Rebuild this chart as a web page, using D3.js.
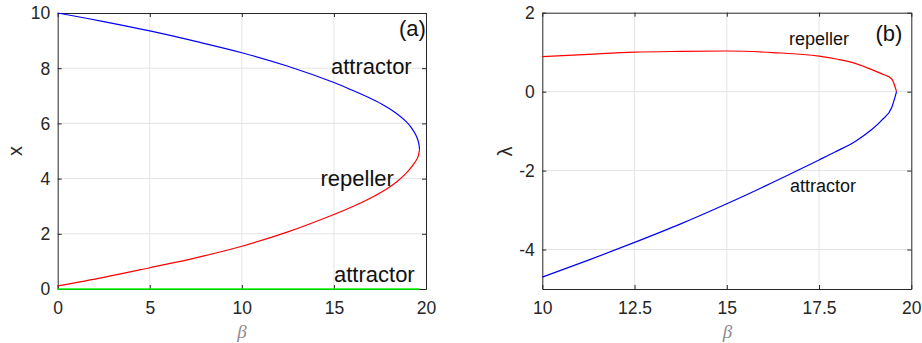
<!DOCTYPE html>
<html>
<head>
<meta charset="utf-8">
<script src="https://cdn.jsdelivr.net/npm/d3@7"></script>
<style>
  html, body { margin: 0; padding: 0; background: #fff; }
  svg { display: block; font-family: "Liberation Sans", Arial, sans-serif; }
  .tick text { fill: #262626; font-size: 17.5px; }
  .tick line { stroke: #262626; }
  .domain { stroke: #262626; }
  .grid line { stroke: #e4e4e4; stroke-width: 1; }
</style>
</head>
<body>
<svg id="chart" width="922" height="343"></svg>
<script>
// Panel (a): equilibria x* versus beta
const betaTicksA = [0, 5, 10, 15, 20];
const xTicksA = [0, 2, 4, 6, 8, 10];
// upper stable branch [beta, x]
const attractorUpper = [
  [0, 10.0], [2.5, 9.69], [5, 9.35], [7.5, 8.97], [10, 8.56], [12.5, 8.07],
  [15, 7.48], [16, 7.2], [17.0, 6.9], [17.8, 6.62], [18.4, 6.36],
  [18.9, 6.08], [19.2, 5.85], [19.45, 5.58], [19.6, 5.3], [19.65, 5.05]
];
// unstable middle branch [beta, x]
const repellerA = [
  [0, 0.11], [2.5, 0.42], [5, 0.77], [7.5, 1.13], [10, 1.55], [12.5, 2.07],
  [15, 2.7], [16, 2.98], [17, 3.3], [17.8, 3.6], [18.4, 3.88],
  [18.9, 4.18], [19.3, 4.5], [19.55, 4.76], [19.65, 5.05]
];
// trivial stable branch x = 0
const attractorZero = [[0, 0], [19.65, 0]];

// Panel (b): eigenvalue lambda versus beta
const betaTicksB = [10, 12.5, 15, 17.5, 20];
const lambdaTicksB = [-4, -2, 0, 2];
const repellerLambda = [
  [10, 0.885], [11.25, 0.945], [12.5, 1.0], [13.75, 1.02], [15, 1.03],
  [16.25, 0.99], [17.5, 0.9], [18, 0.82], [18.5, 0.71], [18.9, 0.57],
  [19.2, 0.45], [19.47, 0.32], [19.6, 0]
];
const attractorLambda = [
  [10, -4.7], [11.25, -4.27], [12.5, -3.82], [13.75, -3.35], [15, -2.84],
  [16.58, -2.15], [17.5, -1.73], [17.93, -1.53], [18.5, -1.25],
  [18.9, -0.98], [19.2, -0.72], [19.47, -0.4], [19.6, 0]
];

const svg = d3.select("#chart");

function panel(opt) {
  const { left, right, top, bottom, xDomain, yDomain, xTicks, yTicks } = opt;
  const x = d3.scaleLinear().domain(xDomain).range([left, right]);
  const y = d3.scaleLinear().domain(yDomain).range([bottom, top]);
  const g = svg.append("g");

  // grid
  const grid = g.append("g").attr("class", "grid");
  grid.selectAll("line.v").data(xTicks.filter(t => t > xDomain[0] && t < xDomain[1]))
    .join("line").attr("class", "v")
    .attr("x1", d => x(d)).attr("x2", d => x(d)).attr("y1", top).attr("y2", bottom);
  grid.selectAll("line.h").data(yTicks.filter(t => t > yDomain[0] && t < yDomain[1]))
    .join("line").attr("class", "h")
    .attr("y1", d => y(d)).attr("y2", d => y(d)).attr("x1", left).attr("x2", right);

  const fmt = d => String(d);
  const bottomAxis = g.append("g").attr("transform", `translate(0,${bottom})`)
    .call(d3.axisBottom(x).tickValues(xTicks).tickFormat(fmt).tickSizeInner(-4).tickSizeOuter(0).tickPadding(13));
  g.append("g").attr("transform", `translate(0,${top})`)
    .call(d3.axisTop(x).tickValues(xTicks).tickFormat("").tickSizeInner(-4).tickSizeOuter(0));
  const leftAxis = g.append("g").attr("transform", `translate(${left},0)`)
    .call(d3.axisLeft(y).tickValues(yTicks).tickFormat(fmt).tickSizeInner(-4).tickSizeOuter(0).tickPadding(7.5));
  g.append("g").attr("transform", `translate(${right},0)`)
    .call(d3.axisRight(y).tickValues(yTicks).tickFormat("").tickSizeInner(-4).tickSizeOuter(0));
  bottomAxis.selectAll(".tick text").attr("dy", "0.71em");
  leftAxis.selectAll(".tick text").attr("dy", "0.34em");
  return { g, x, y };
}

function curve(p, data, color, width, c) {
  const line = d3.line().x(d => p.x(d[0])).y(d => p.y(d[1])).curve(c || d3.curveCatmullRom.alpha(0.5));
  p.g.append("path").datum(data).attr("d", line)
    .attr("fill", "none").attr("stroke", color).attr("stroke-width", width)
    .attr("stroke-linejoin", "round");
}

function label(g, txt, x, y, size) {
  return g.append("text").attr("x", x).attr("y", y).attr("font-size", size)
    .attr("fill", "#111").text(txt);
}

// ---- panel (a)
const pa = panel({
  left: 57.7, right: 426, top: 13, bottom: 289,
  xDomain: [0, 20], yDomain: [0, 10], xTicks: betaTicksA, yTicks: xTicksA
});
curve(pa, attractorZero, "#00ff00", 1.5, d3.curveLinear);
curve(pa, attractorUpper, "#0000ff", 1.2);
curve(pa, repellerA, "#ff0000", 1.2);
label(pa.g, "(a)", 399, 35.5, 22);
label(pa.g, "attractor", 331, 74, 22);
label(pa.g, "repeller", 320.5, 186, 22);
label(pa.g, "attractor", 334, 282, 22);
pa.g.append("text").attr("transform", "translate(21.5,151) rotate(-90)")
  .attr("text-anchor", "middle").attr("font-size", 20).attr("fill", "#262626").text("x");
pa.g.append("text").attr("x", 242).attr("y", 338).attr("text-anchor", "middle")
  .attr("font-size", 19).attr("font-style", "italic").attr("font-family", "'Liberation Serif', serif")
  .attr("fill", "#8c8c8c").text("β");

// ---- panel (b)
const pb = panel({
  left: 542.3, right: 911.3, top: 12.7, bottom: 289,
  xDomain: [10, 20], yDomain: [-5, 2], xTicks: betaTicksB, yTicks: lambdaTicksB
});
curve(pb, repellerLambda, "#ff0000", 1.2, d3.curveMonotoneX);
curve(pb, attractorLambda, "#0000ff", 1.2, d3.curveMonotoneX);
label(pb.g, "repeller", 789, 45, 18);
label(pb.g, "(b)", 875.5, 41, 22);
label(pb.g, "attractor", 790, 192, 18);
pb.g.append("text").attr("transform", "translate(511.5,151.5) rotate(-90)")
  .attr("text-anchor", "middle").attr("font-size", 20).attr("fill", "#262626").text("λ");
pb.g.append("text").attr("x", 727.5).attr("y", 338).attr("text-anchor", "middle")
  .attr("font-size", 19).attr("font-style", "italic").attr("font-family", "'Liberation Serif', serif")
  .attr("fill", "#8c8c8c").text("β");
</script>
</body>
</html>
